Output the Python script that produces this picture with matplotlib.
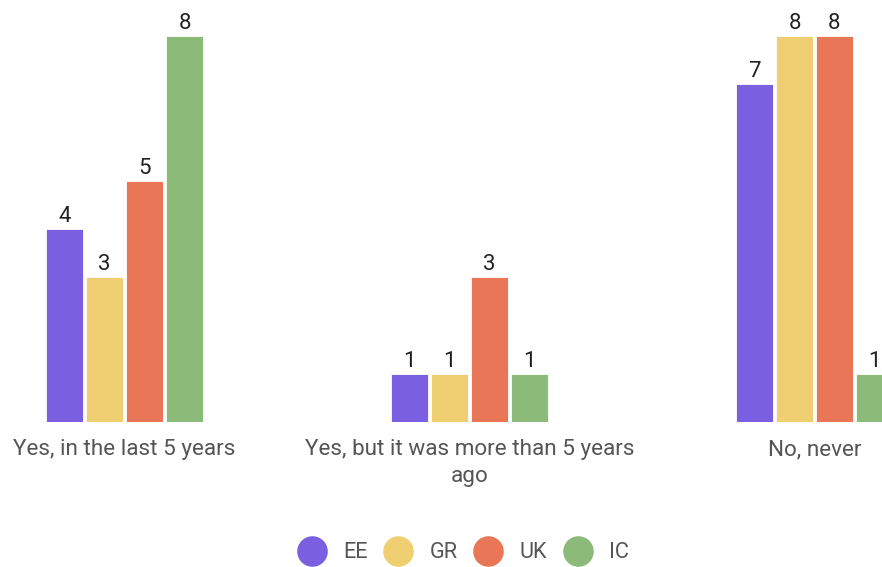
import matplotlib
matplotlib.use("Agg")
import matplotlib.pyplot as plt
from matplotlib.lines import Line2D
import numpy as np

categories = ["Yes, in the last 5 years", "Yes, but it was more than 5 years\nago", "No, never"]
series = ["EE", "GR", "UK", "IC"]
ee = [4, 1, 7]
gr = [3, 1, 8]
uk = [5, 3, 8]
ic = [8, 1, 1]
values = [ee, gr, uk, ic]
colors = ["#7a5fe0", "#f0cf73", "#e97757", "#8cba79"]

plt.rcParams["font.family"] = ["Roboto", "DejaVu Sans"]

fig = plt.figure(figsize=(8.82, 5.67), dpi=100)
ax = fig.add_axes([0, 0.2557, 1, 0.7443])

x = np.arange(len(categories))
step = 40 / 345
width = 37 / 345
for j, (name, vals, col) in enumerate(zip(series, values, colors)):
    pos = x + (j - 1.5) * step
    bars = ax.bar(pos, vals, width=width, color=col, edgecolor="white",
                  linewidth=0.6, label=name)
    for b, v in zip(bars, vals):
        ax.text(b.get_x() + b.get_width() / 2, v + 0.145, str(v),
                ha="center", va="baseline", fontsize=16, color="#222222")

ax.set_xlim(-124.5 / 345, (882 - 124.5) / 345)
ax.set_ylim(0, 422 / 48.25)
ax.set_yticks([])
ax.set_xticks(x)
ax.set_xticklabels(categories, fontsize=16.2, color="#555555", linespacing=1.37)
ax.tick_params(axis="x", length=0, pad=12.5)
for s in ax.spines.values():
    s.set_visible(False)

handles = [Line2D([0], [0], marker="o", linestyle="", markersize=21,
                  markerfacecolor=c, markeredgecolor=c) for c in colors]
fig.legend(handles, series, loc="center", bbox_to_anchor=(463 / 882, 1 - 553 / 567),
           ncol=4, frameon=False, fontsize=15.7, labelcolor="#555555",
           handletextpad=0.78, columnspacing=0.73, handlelength=1.33)

fig.savefig("out.png", dpi=100)
